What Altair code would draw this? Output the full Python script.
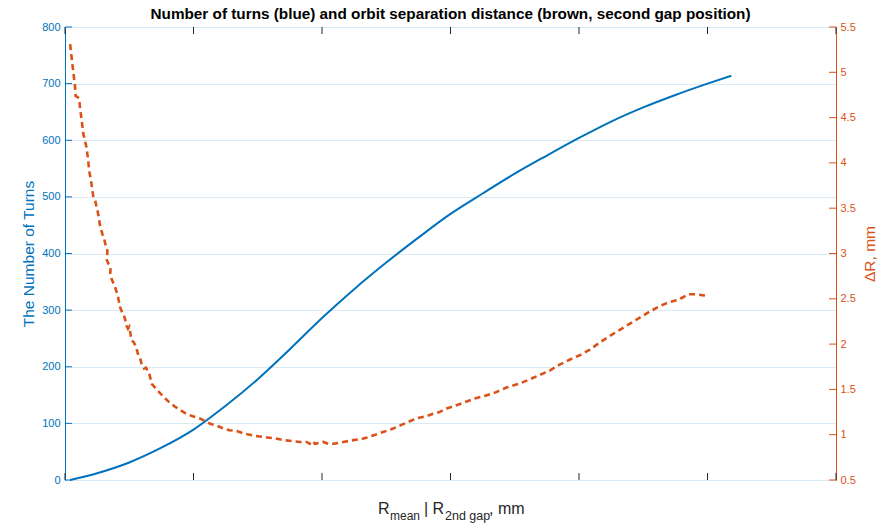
import altair as alt
import pandas as pd

# ---------------- data ----------------
turns_r = [208, 250, 300, 350, 400, 450, 500, 550, 600, 650, 700, 750, 800,
           850, 900, 950, 1000, 1050, 1100, 1150, 1200, 1237]
turns_n = [0, 12, 31, 57, 89, 131, 178, 231, 286, 337, 384, 428, 470,
           506, 541, 573, 604, 633, 658, 680, 700, 714]

dr_r = [208, 210.5, 213, 215.5, 216.5, 219, 222, 223.5, 226, 228.5, 231, 233.5,
        236, 238, 241, 244, 247, 251, 254.5, 258, 261, 263, 266, 265, 268, 271,
        270.5, 272.5, 277.8, 282, 285.6, 289, 291.8, 296, 298, 300, 303.8, 307,
        310.5, 314, 317, 319.3, 323, 326, 331, 335, 344, 353, 362, 371, 380, 389,
        400, 410, 418, 426, 436, 446, 456, 467, 480, 493, 503, 514, 527, 540, 553,
        566, 576, 581, 586, 589, 596, 602, 610, 618, 633, 649, 660, 670, 683, 695,
        708, 721, 734, 747, 760, 773, 783, 794, 807, 823, 838, 854, 871, 887, 906,
        923, 939, 955, 969, 986, 1002, 1017, 1033, 1048, 1064, 1078, 1094, 1108,
        1123, 1139, 1155, 1170, 1183, 1192, 1201]
dr_v = [5.31, 5.15, 5.00, 4.85, 4.74, 4.73, 4.71, 4.60, 4.47, 4.32, 4.25, 4.17,
        4.03, 3.90, 3.78, 3.63, 3.58, 3.46, 3.31, 3.22, 3.16, 3.10, 3.03, 2.93, 2.88, 2.85,
        2.78, 2.72, 2.63, 2.54, 2.41, 2.35, 2.32, 2.20, 2.17, 2.19, 2.04, 2.02,
        1.97, 1.88, 1.84, 1.78, 1.73, 1.74, 1.68, 1.56, 1.49, 1.42, 1.36, 1.31, 1.27, 1.23,
        1.20, 1.18, 1.15, 1.12, 1.10, 1.07, 1.05, 1.04, 1.01, 0.99, 0.98, 0.97, 0.96, 0.94, 0.93,
        0.92, 0.92, 0.90, 0.93, 0.90, 0.91, 0.92, 0.90, 0.90, 0.92, 0.94, 0.95, 0.97, 1.00, 1.03,
        1.06, 1.10, 1.14, 1.18, 1.20, 1.23, 1.25, 1.29, 1.32, 1.36, 1.40, 1.43, 1.47, 1.52, 1.56,
        1.61, 1.66, 1.71, 1.77, 1.83, 1.88, 1.94, 2.02, 2.09, 2.16, 2.22, 2.29, 2.35,
        2.41, 2.46, 2.49, 2.55, 2.55, 2.54, 2.53]

x_ticks = [200, 400, 600, 800, 1000, 1200, 1400]
yl_ticks = [0, 100, 200, 300, 400, 500, 600, 700, 800]
yr_ticks = [0.5, 1, 1.5, 2, 2.5, 3, 3.5, 4, 4.5, 5, 5.5]

title_text = ["Number of turns (blue) and orbit separation distance (brown, second gap position)"]
xlabel_parts = ["R", "mean", "| R", "2nd gap", ", mm"]
ylabel_left = "The Number of Turns"
ylabel_right = "\u0394R, mm"

# ---------------- style ----------------
W, H = 771, 453
BLUE = "#0072BD"
ORANGE = "#D95319"
DARK = "#262626"
FONT = "Liberation Sans"
TICK = 7

# (x, baseline y, font size) of each x-title piece, relative to plot origin
xlabel_pos = [(313, 487, 16), (325, 493, 12), (359, 487, 16), (380, 493, 12.5), (424, 487, 16)]

x_scale = alt.Scale(domain=[200, 1400], nice=False, zero=False)
yl_scale = alt.Scale(domain=[0, 800], nice=False, zero=False)
yr_scale = alt.Scale(domain=[0.5, 5.5], nice=False, zero=False)

turns_df = pd.DataFrame({"r": turns_r, "n": turns_n})
dr_df = pd.DataFrame({"r": dr_r, "d": dr_v, "o": list(range(len(dr_r)))})
xt_df = pd.DataFrame({"xt": x_ticks})
ylt_df = pd.DataFrame({"ylt": yl_ticks})
yrt_df = pd.DataFrame({"yrt": yr_ticks})

x_axis = alt.Axis(values=x_ticks, format="d", ticks=False, grid=True,
                  gridColor="#DEDEDE", gridWidth=1, domainColor=DARK, domainWidth=1,
                  labelColor=DARK, labelFont=FONT, labelFontSize=11, labelPadding=6,
                  title=None)

yl_axis = alt.Axis(orient="left", values=yl_ticks, format="d", ticks=False, grid=True,
                   gridColor="#D9EAF5", gridWidth=1, domainColor=BLUE, domainWidth=1,
                   labelColor=BLUE, labelFont=FONT, labelFontSize=11, labelPadding=5,
                   title=ylabel_left, titleColor=BLUE, titleFont=FONT, titleFontSize=15.5,
                   titleFontWeight="normal", titleAngle=270, titleX=-37, titleY=H / 2,
                   titleAlign="center", titleBaseline="middle")

yr_axis = alt.Axis(orient="right", values=yr_ticks, format=".1~f", ticks=False, grid=False,
                   domainColor=ORANGE, domainWidth=1,
                   labelColor=ORANGE, labelFont=FONT, labelFontSize=11, labelPadding=4,
                   title=ylabel_right, titleColor=ORANGE, titleFont=FONT, titleFontSize=15.5,
                   titleFontWeight="normal", titleAngle=270, titleX=33, titleY=H / 2,
                   titleAlign="center", titleBaseline="middle")

blue_line = alt.Chart(turns_df).mark_line(color=BLUE, strokeWidth=2, interpolate="monotone").encode(
    x=alt.X("r:Q", scale=x_scale, axis=x_axis),
    y=alt.Y("n:Q", scale=yl_scale, axis=yl_axis),
)

orange_line = alt.Chart(dr_df).mark_line(color=ORANGE, strokeWidth=2.6, strokeDash=[6, 4]).encode(
    x=alt.X("r:Q", scale=x_scale, axis=None),
    y=alt.Y("d:Q", scale=yr_scale, axis=yr_axis),
    order="o:Q",
)

bottom_ticks = alt.Chart(xt_df).mark_rule(color=DARK, strokeWidth=1).encode(
    x=alt.X("xt:Q", scale=x_scale, axis=None),
    y=alt.value(H), y2=alt.value(H - TICK),
)
top_ticks = alt.Chart(xt_df).mark_rule(color=DARK, strokeWidth=1).encode(
    x=alt.X("xt:Q", scale=x_scale, axis=None),
    y=alt.value(0), y2=alt.value(TICK),
)
left_ticks = alt.Chart(ylt_df).mark_rule(color=BLUE, strokeWidth=1).encode(
    y=alt.Y("ylt:Q", scale=yl_scale, axis=None),
    x=alt.value(0), x2=alt.value(TICK),
)
right_ticks = alt.Chart(yrt_df).mark_rule(color=ORANGE, strokeWidth=1).encode(
    y=alt.Y("yrt:Q", scale=yr_scale, axis=None),
    x=alt.value(W - TICK), x2=alt.value(W),
)

title_layer = alt.Chart(pd.DataFrame({"t": title_text})).mark_text(
    align="center", baseline="alphabetic", font=FONT, fontSize=15.3, fontWeight="bold",
    color="#000000"
).encode(text="t:N", x=alt.value(W / 2), y=alt.value(-8.5))

xlabel_layers = []
for txt, (px, py, fs) in zip(xlabel_parts, xlabel_pos):
    xlabel_layers.append(
        alt.Chart(pd.DataFrame({"t": [txt]})).mark_text(
            align="left", baseline="alphabetic", font=FONT, fontSize=fs, color=DARK
        ).encode(text="t:N", x=alt.value(px), y=alt.value(py))
    )

chart = alt.layer(
    blue_line, orange_line, bottom_ticks, top_ticks, left_ticks, right_ticks,
    title_layer, *xlabel_layers
).resolve_scale(y="independent").properties(
    width=W, height=H,
    autosize=alt.AutoSizeParams(type="none"),
    padding={"left": 65, "top": 27, "right": 60, "bottom": 43},
).configure_view(stroke=DARK, strokeWidth=1)

chart.save("out.html", embed_options={"renderer": "svg", "actions": False})
